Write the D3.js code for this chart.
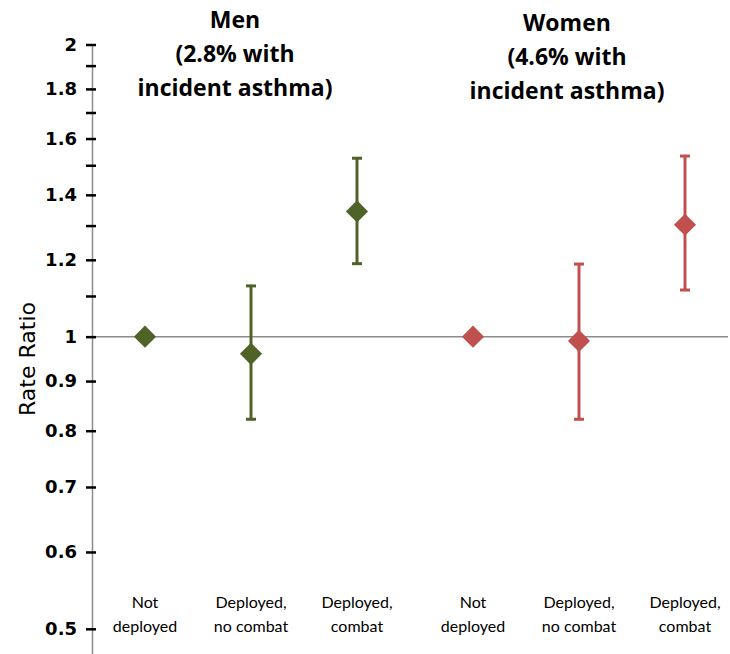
<!DOCTYPE html>
<html>
<head>
<meta charset="utf-8">
<script src="https://cdn.jsdelivr.net/npm/d3@7"></script>
<style>
    body { margin: 0; background: #fff; }
    text { font-family: Lato, "Open Sans", sans-serif; fill: #000; }
</style>
</head>
<body>
<div id="chart"></div>
<script>
// groups and categories
var groups = ["Men", "Women"];
var groupTitles = [
    ["Men", "(2.8% with", "incident asthma)"],
    ["Women", "(4.6% with", "incident asthma)"]
];
var categories = ["Not deployed", "Deployed, no combat", "Deployed, combat"];
var categoryLines = [["Not", "deployed"], ["Deployed,", "no combat"], ["Deployed,", "combat"]];

// rate ratios with 95% CI
var menRR    = [1.00, 0.96, 1.346];
var menLow   = [null, 0.822, 1.189];
var menHigh  = [null, 1.128, 1.527];
var womenRR   = [1.00, 0.99, 1.304];
var womenLow  = [null, 0.822, 1.117];
var womenHigh = [null, 1.188, 1.535];

var groupColors = ["#4F6228", "#C0504D"];

// y ticks
var majorTicks = [0.5, 0.6, 0.7, 0.8, 0.9, 1, 1.2, 1.4, 1.6, 1.8, 2];
var minorTicks = [1.1, 1.3, 1.5, 1.7, 1.9];

var width = 730, height = 654;
var axisX = 92;

var svg = d3.select("#chart").append("svg")
    .attr("width", width)
    .attr("height", height);

var yScale = d3.scaleLog()
    .domain([0.471, 2])
    .range([654, 44.5]);

// group bands, then points inside each group
var groupScale = d3.scaleBand()
    .domain(groups)
    .range([87, 743]);

var innerScale = d3.scalePoint()
    .domain(categories)
    .range([-106, 106]);

function xPos(g, c) {
    return groupScale(g) + groupScale.bandwidth() / 2 + innerScale(c);
}

// reference line at 1
svg.append("line")
    .attr("x1", axisX)
    .attr("x2", 728)
    .attr("y1", yScale(1))
    .attr("y2", yScale(1))
    .attr("stroke", "#8c8c8c")
    .attr("stroke-width", 1.5);

// y axis
var yAxis = d3.axisLeft(yScale)
    .tickValues(majorTicks)
    .tickFormat(d3.format("~g"))
    .tickSizeInner(6)
    .tickSizeOuter(0)
    .tickPadding(9);

var gy = svg.append("g")
    .attr("class", "y-axis")
    .attr("transform", "translate(" + axisX + ",0)")
    .call(yAxis);

gy.select(".domain")
    .attr("stroke", "#8c8c8c")
    .attr("stroke-width", 1.5);

gy.selectAll(".tick line")
    .attr("x1", -6)
    .attr("x2", 4)
    .attr("stroke", "#000")
    .attr("stroke-width", 2.5);

gy.selectAll(".tick text")
    .style("font-size", "18px")
    .style("font-weight", "bold")
    .style("font-family", "'DejaVu Sans', sans-serif");

gy.selectAll(".minor")
    .data(minorTicks)
    .enter().append("line")
    .attr("class", "minor")
    .attr("x1", -6)
    .attr("x2", 4)
    .attr("y1", function(d) { return yScale(d); })
    .attr("y2", function(d) { return yScale(d); })
    .attr("stroke", "#000")
    .attr("stroke-width", 2.5);

// axis title
svg.append("text")
    .attr("transform", "translate(35," + 359 + ") rotate(-90)")
    .attr("text-anchor", "middle")
    .style("font-family", "'DejaVu Sans', sans-serif")
    .style("font-size", "22px")
    .text("Rate Ratio");

// build point table
var series = [
    {group: "Men", rr: menRR, low: menLow, high: menHigh, color: groupColors[0]},
    {group: "Women", rr: womenRR, low: womenLow, high: womenHigh, color: groupColors[1]}
];

var points = [];
series.forEach(function(s) {
    categories.forEach(function(c, i) {
        points.push({group: s.group, cat: c, rr: s.rr[i], low: s.low[i], high: s.high[i], color: s.color});
    });
});

var withCI = points.filter(function(d) { return d.low !== null; });

// error bars
svg.selectAll(".errBar")
    .data(withCI)
    .enter().append("line")
    .attr("class", "errBar")
    .attr("x1", function(d) { return xPos(d.group, d.cat); })
    .attr("x2", function(d) { return xPos(d.group, d.cat); })
    .attr("y1", function(d) { return yScale(d.low); })
    .attr("y2", function(d) { return yScale(d.high); })
    .attr("stroke", function(d) { return d.color; })
    .attr("stroke-width", 3);

var caps = [];
withCI.forEach(function(d) {
    caps.push({d: d, v: d.low});
    caps.push({d: d, v: d.high});
});

svg.selectAll(".errCap")
    .data(caps)
    .enter().append("line")
    .attr("class", "errCap")
    .attr("x1", function(c) { return xPos(c.d.group, c.d.cat) - 5; })
    .attr("x2", function(c) { return xPos(c.d.group, c.d.cat) + 5; })
    .attr("y1", function(c) { return yScale(c.v); })
    .attr("y2", function(c) { return yScale(c.v); })
    .attr("stroke", function(c) { return c.d.color; })
    .attr("stroke-width", 3);

// diamonds
var diamond = d3.symbol().type(d3.symbolSquare).size(245);

svg.selectAll(".pt")
    .data(points)
    .enter().append("path")
    .attr("class", "pt")
    .attr("d", diamond)
    .attr("transform", function(d) {
        return "translate(" + xPos(d.group, d.cat) + "," + yScale(d.rr) + ") rotate(45)";
    })
    .attr("fill", function(d) { return d.color; });

// group titles
groups.forEach(function(g, gi) {
    var cx = groupScale(g) + groupScale.bandwidth() / 2 - 16;
    var t = svg.append("text")
        .attr("text-anchor", "middle")
        .style("font-family", "'Open Sans', sans-serif")
        .style("font-size", "23px")
        .style("font-weight", "bold");
    groupTitles[gi].forEach(function(line, li) {
        t.append("tspan")
            .attr("x", cx + (gi === 1 ? 4 : 0))
            .attr("y", 28 + li * 34 + (gi === 1 ? 3 : 0))
            .text(line);
    });
});

// category labels
groups.forEach(function(g) {
    categories.forEach(function(c, ci) {
        var t = svg.append("text")
            .attr("text-anchor", "middle")
            .style("font-size", "16px");
        categoryLines[ci].forEach(function(line, li) {
            t.append("tspan")
                .attr("x", xPos(g, c))
                .attr("y", 608 + li * 24)
                .text(line);
        });
    });
});
</script>
</body>
</html>
